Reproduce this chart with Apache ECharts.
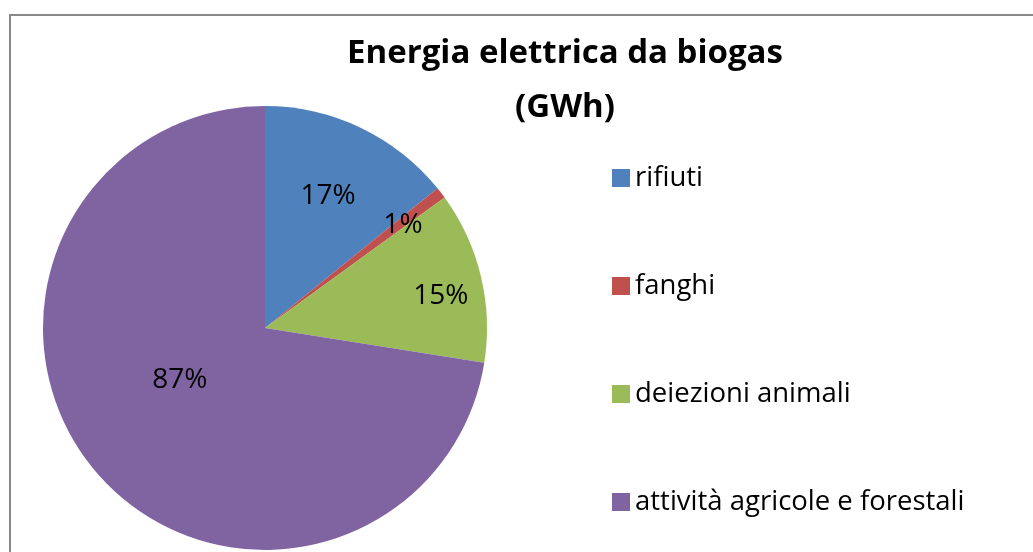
<!DOCTYPE html>
<html>
<head>
<meta charset="utf-8">
<script src="https://cdn.jsdelivr.net/npm/echarts@6/dist/echarts.min.js"></script>
<style>
html,body{margin:0;padding:0;background:#fff;}
#chart{width:1033px;height:552px;}
</style>
</head>
<body>
<div id="chart"></div>
<script>
const categories = ['rifiuti', 'fanghi', 'deiezioni animali', 'attività agricole e forestali'];
const values = [17, 1, 15, 87];
const colors = ['#4F81BD', '#C0504D', '#9BBB59', '#8064A2'];
const labelRadiusRatio = [0.66, 0.775, 0.805, 0.45];
const labelAngleShift = [0, 0.8, 3.2, 9];

const CX = 265, CY = 328, R = 222;
const FONT = '"Open Sans", "DejaVu Sans", sans-serif';

const chart = echarts.init(document.getElementById('chart'), null, {renderer: 'canvas'});
chart.setOption({
  backgroundColor: '#ffffff',
  animation: false,
  color: colors,
  graphic: [
    {type: 'rect', shape: {x: 10, y: 15, width: 1100, height: 700}, style: {fill: 'none', stroke: '#898989', lineWidth: 2}, z: 0},
    {type: 'text', x: 565, y: 54, style: {text: 'Energia elettrica da biogas', font: 'bold 33px ' + FONT, fill: '#000', align: 'center', verticalAlign: 'middle'}},
    {type: 'text', x: 565, y: 108, style: {text: '(GWh)', font: 'bold 33px ' + FONT, fill: '#000', align: 'center', verticalAlign: 'middle'}}
  ],
  legend: {
    orient: 'vertical',
    left: 607,
    top: 159,
    icon: 'rect',
    itemWidth: 18,
    itemHeight: 18,
    itemGap: 80,
    data: categories,
    textStyle: {fontFamily: FONT, fontSize: 27.5, color: '#000', lineHeight: 28, padding: 0}
  },
  series: [{
    type: 'pie',
    center: [CX, CY],
    radius: [0, R],
    startAngle: 90,
    clockwise: true,
    label: {
      show: true,
      position: 'inside',
      formatter: '{c}%',
      fontFamily: FONT,
      fontSize: 28,
      color: '#000'
    },
    labelLine: {show: false},
    labelLayout: function (p) {
      const r = p.labelRect;
      const lx = r.x + r.width / 2, ly = r.y + r.height / 2;
      const vx = lx - CX, vy = ly - CY;
      const th = Math.atan2(vx, -vy) + labelAngleShift[p.dataIndex] * Math.PI / 180;
      const d = labelRadiusRatio[p.dataIndex] * R;
      return {dx: CX + d * Math.sin(th) - lx, dy: CY - d * Math.cos(th) - ly};
    },
    itemStyle: {borderWidth: 0},
    emphasis: {disabled: true},
    data: categories.map((c, i) => ({name: c, value: values[i]}))
  }]
});
</script>
</body>
</html>
